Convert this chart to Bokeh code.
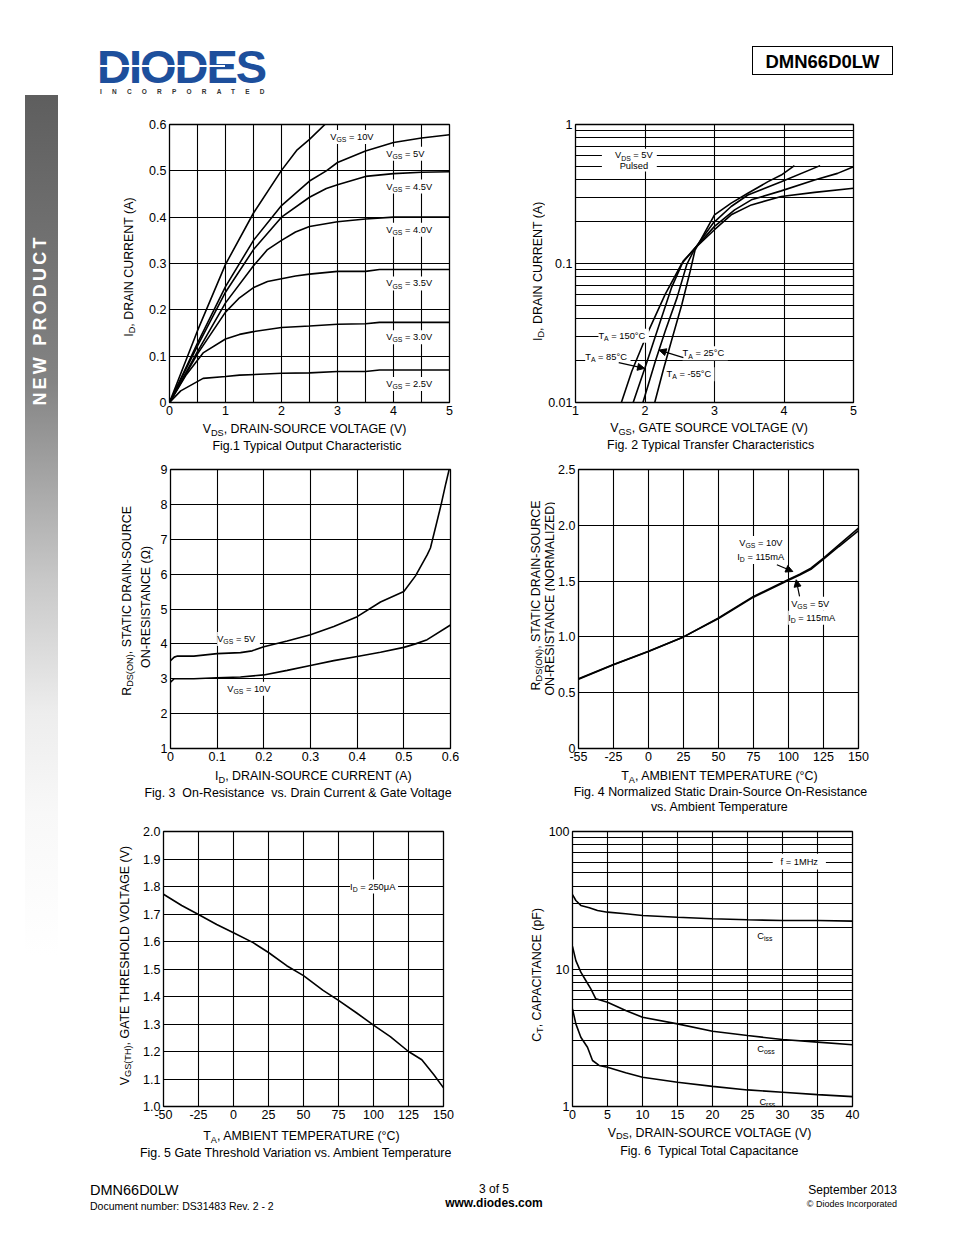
import math
from bokeh.plotting import figure
from bokeh.models import (Range1d, FixedTicker, Label, Arrow, NormalHead,
                          BoxAnnotation, Div, BasicTickFormatter)
from bokeh.layouts import row, column
from bokeh.embed import file_html
from bokeh.resources import INLINE

FONT = "Liberation Sans"
NB = "\u00a0"

# ---------------- data ----------------
# Fig.1 Typical Output Characteristic (VDS [V], ID [A])
f1_vgs10_v = [0, 0.5, 1.0, 1.5, 2.0, 2.27, 2.5, 2.8]
f1_vgs10_i = [0, 0.155, 0.298, 0.409, 0.501, 0.544, 0.568, 0.603]
f1_vgs5_v = [0, 0.5, 1.0, 1.5, 2.0, 2.5, 2.8, 3.0, 3.5, 4.0, 4.5, 5.0]
f1_vgs5_i = [0, 0.128, 0.25, 0.35, 0.425, 0.478, 0.50, 0.518, 0.543, 0.561, 0.571, 0.578]
f1_vgs45_v = [0, 0.5, 1.0, 1.5, 2.0, 2.5, 2.8, 3.0, 3.5, 4.0, 4.5, 5.0]
f1_vgs45_i = [0, 0.122, 0.238, 0.33, 0.40, 0.443, 0.462, 0.47, 0.488, 0.494, 0.497, 0.498]
f1_vgs40_v = [0, 0.5, 1.0, 1.5, 1.75, 2.0, 2.25, 2.5, 3.0, 3.5, 4.0, 5.0]
f1_vgs40_i = [0, 0.11, 0.215, 0.295, 0.33, 0.35, 0.368, 0.38, 0.39, 0.396, 0.40, 0.40]
f1_vgs35_v = [0, 0.5, 1.0, 1.25, 1.5, 1.75, 2.0, 2.25, 2.5, 3.0, 3.5, 3.75, 5.0]
f1_vgs35_i = [0, 0.105, 0.195, 0.226, 0.248, 0.261, 0.267, 0.273, 0.277, 0.283, 0.283, 0.287, 0.287]
f1_vgs30_v = [0, 0.3, 0.6, 1.0, 1.25, 1.5, 2.0, 2.5, 3.0, 3.5, 3.75, 5.0]
f1_vgs30_i = [0, 0.06, 0.107, 0.137, 0.147, 0.153, 0.162, 0.165, 0.169, 0.170, 0.173, 0.173]
f1_vgs25_v = [0, 0.2, 0.6, 1.0, 1.25, 2.0, 2.5, 3.0, 3.5, 3.75, 5.0]
f1_vgs25_i = [0, 0.025, 0.052, 0.056, 0.059, 0.063, 0.064, 0.067, 0.067, 0.070, 0.070]
f1_x_ticks = [0, 1, 2, 3, 4, 5]
f1_x_minor = [0.5, 1.5, 2.5, 3.5, 4.5]
f1_y_ticks = [0, 0.1, 0.2, 0.3, 0.4, 0.5, 0.6]
f1_y_labels = ["0", "0.1", "0.2", "0.3", "0.4", "0.5", "0.6"]

# Fig.2 Typical Transfer Characteristics (VGS [V], ID [A])
f2_t150_v = [1.66, 1.81, 2.03, 2.29, 2.53, 2.72, 3.0, 3.24, 3.53, 3.96, 4.44, 5.0]
f2_t150_i = [0.01, 0.0168, 0.031, 0.06, 0.10, 0.129, 0.175, 0.224, 0.264, 0.303, 0.325, 0.348]
f2_t85_v = [1.83, 2.0, 2.19, 2.38, 2.55, 2.72, 3.0, 3.29, 3.53, 3.96, 4.44, 4.77, 5.0]
f2_t85_i = [0.01, 0.0178, 0.0345, 0.0667, 0.104, 0.129, 0.185, 0.243, 0.287, 0.333, 0.399, 0.445, 0.497]
f2_t25_v = [1.97, 2.15, 2.29, 2.46, 2.6, 2.72, 2.98, 3.24, 3.48, 3.96, 4.52]
f2_t25_i = [0.01, 0.0199, 0.0326, 0.0566, 0.098, 0.129, 0.195, 0.257, 0.311, 0.388, 0.506]
f2_tm55_v = [2.14, 2.26, 2.38, 2.53, 2.65, 2.72, 3.0, 3.24, 3.48, 3.77, 3.96, 4.15]
f2_tm55_i = [0.01, 0.0169, 0.0277, 0.0507, 0.0879, 0.125, 0.224, 0.272, 0.32, 0.388, 0.433, 0.506]
f2_x_ticks = [1, 2, 3, 4, 5]
f2_y_ticks = [0.01, 0.1, 1]
f2_y_labels = ["0.01", "0.1", "1"]
f2_y_minor = [0.02, 0.03, 0.04, 0.05, 0.06, 0.07, 0.08, 0.09,
              0.2, 0.3, 0.4, 0.5, 0.6, 0.7, 0.8, 0.9]

# Fig.3 On-Resistance vs Drain Current (ID [A], RDS [ohm])
f3_vgs5_i = [0, 0.008, 0.015, 0.05, 0.1, 0.15, 0.175, 0.2, 0.25, 0.3, 0.35, 0.4,
             0.45, 0.5, 0.525, 0.55, 0.557, 0.57, 0.58, 0.59, 0.598]
f3_vgs5_r = [3.52, 3.62, 3.65, 3.65, 3.72, 3.75, 3.80, 3.92, 4.08, 4.26, 4.5, 4.78,
             5.2, 5.5, 5.95, 6.55, 6.75, 7.45, 8.0, 8.6, 9.05]
f3_vgs10_i = [0, 0.008, 0.05, 0.1, 0.15, 0.2, 0.25, 0.3, 0.35, 0.4, 0.45, 0.5, 0.525, 0.55, 0.6]
f3_vgs10_r = [2.9, 3.0, 3.0, 3.03, 3.05, 3.11, 3.24, 3.38, 3.52, 3.64, 3.76, 3.9, 4.0, 4.12, 4.54]
f3_x_ticks = [0, 0.1, 0.2, 0.3, 0.4, 0.5, 0.6]
f3_x_labels = ["0", "0.1", "0.2", "0.3", "0.4", "0.5", "0.6"]
f3_y_ticks = [1, 2, 3, 4, 5, 6, 7, 8, 9]

# Fig.4 Normalized RDS(ON) vs Ambient Temperature (axis position, normalized R)
f4_t = [-50, -25, 0, 25, 50, 75, 100, 108, 116, 125, 136, 150]
f4_vgs10_r = [0.625, 0.753, 0.872, 1.0, 1.17, 1.363, 1.515, 1.562, 1.616, 1.705, 1.824, 1.975]
f4_vgs5_r = [0.62, 0.75, 0.87, 1.0, 1.165, 1.356, 1.508, 1.555, 1.606, 1.696, 1.81, 1.952]
f4_x_ticks = [-50, -25, 0, 25, 50, 75, 100, 125, 150]
f4_x_labels = ["-55", "-25", "0", "25", "50", "75", "100", "125", "150"]
f4_y_ticks = [0, 0.5, 1.0, 1.5, 2.0, 2.5]
f4_y_labels = ["0", "0.5", "1.0", "1.5", "2.0", "2.5"]

# Fig.5 Gate Threshold Variation vs Ambient Temperature (T [C], VGS(TH) [V])
f5_t = [-50, -37, -25, -12, 0, 14, 25, 38, 50, 64, 75, 88, 100, 112, 125, 134.5, 143, 150]
f5_v = [1.772, 1.731, 1.698, 1.662, 1.632, 1.596, 1.56, 1.512, 1.476, 1.422, 1.386,
        1.34, 1.296, 1.254, 1.2, 1.17, 1.116, 1.068]
f5_x_ticks = [-50, -25, 0, 25, 50, 75, 100, 125, 150]
f5_x_labels = ["-50", "-25", "0", "25", "50", "75", "100", "125", "150"]
f5_y_ticks = [1.0, 1.1, 1.2, 1.3, 1.4, 1.5, 1.6, 1.7, 1.8, 1.9, 2.0]
f5_y_labels = ["1.0", "1.1", "1.2", "1.3", "1.4", "1.5", "1.6", "1.7", "1.8", "1.9", "2.0"]

# Fig.6 Typical Total Capacitance (VDS [V], C [pF])
f6_ciss_v = [0, 0.48, 1.19, 2.4, 3.57, 5, 7.6, 10, 15, 20, 25, 30, 35, 40]
f6_ciss_c = [34.8, 31.5, 29.0, 27.9, 26.6, 25.9, 25.2, 24.5, 23.8, 23.2, 22.8, 22.5, 22.5, 22.3]
f6_coss_v = [0, 0.48, 1.19, 1.9, 2.62, 3.33, 5, 7.6, 10, 15, 20, 25, 30, 35, 40]
f6_coss_c = [14.6, 11.5, 9.48, 8.25, 7.17, 6.07, 5.74, 4.99, 4.46, 3.99, 3.53, 3.28, 3.07, 2.94, 2.81]
f6_crss_v = [0, 0.48, 1.19, 2.14, 2.86, 3.8, 5, 7.6, 10, 15, 20, 25, 30, 35, 40]
f6_crss_c = [5.13, 3.99, 3.19, 2.70, 2.16, 1.99, 1.93, 1.76, 1.63, 1.50, 1.40, 1.32, 1.27, 1.22, 1.18]
f6_x_ticks = [0, 5, 10, 15, 20, 25, 30, 35, 40]
f6_y_ticks = [1, 10, 100]
f6_y_labels = ["1", "10", "100"]
f6_y_minor = [2, 3, 4, 5, 6, 7, 8, 9, 20, 30, 40, 50, 60, 70, 80, 90]

# ---------------- helpers ----------------
W = {' ': 278, NB: 278, '!': 278, '(': 333, ')': 333, ',': 278, '-': 333, '.': 278, '/': 278,
     ':': 278, '=': 584, '&': 667, '°': 400, 'Ω': 768, 'μ': 577, '©': 737,
     'A': 667, 'B': 667, 'C': 722, 'D': 722, 'E': 667, 'F': 611, 'G': 778, 'H': 722,
     'I': 278, 'J': 500, 'K': 667, 'L': 556, 'M': 833, 'N': 722, 'O': 778, 'P': 667,
     'Q': 778, 'R': 722, 'S': 667, 'T': 611, 'U': 722, 'V': 667, 'W': 944, 'X': 667,
     'Y': 667, 'Z': 611,
     'a': 556, 'b': 556, 'c': 500, 'd': 556, 'e': 556, 'f': 278, 'g': 556, 'h': 556,
     'i': 222, 'j': 222, 'k': 500, 'l': 222, 'm': 833, 'n': 556, 'o': 556, 'p': 556,
     'q': 556, 'r': 333, 's': 500, 't': 278, 'u': 556, 'v': 500, 'w': 722, 'x': 500,
     'y': 500, 'z': 500}
for d in "0123456789":
    W[d] = 556


def tw(s, size):
    return sum(W.get(c, 556) for c in s) * size / 1000.0


def keep_spaces(t):
    # SVG collapses leading and doubled spaces: protect them with no-break spaces
    t = t.replace("  ", " " + NB)
    if t.startswith(" "):
        t = NB + t[1:]
    return t


def rich(p, x, y, parts, size, align="left", angle=0.0, dx=0.0, dy=0.0, bg=False, pad=2):
    """Text with subscripts, composed of several Labels side by side."""
    sub = 0.74
    parts = [(keep_spaces(t), s) for t, s in parts]
    sizes = [size * sub if s else size for t, s in parts]
    widths = [tw(t, fs) for (t, s), fs in zip(parts, sizes)]
    total = sum(widths)
    start = {"left": 0.0, "center": -total / 2.0, "right": -total}[align]
    if bg and angle == 0:
        n = max(1, int(round(total / (0.278 * size))))
        p.add_layout(Label(x=x, y=y, x_offset=dx + start, y_offset=dy, text=NB * n,
                           text_font=FONT, text_font_size=f"{size:.2f}px",
                           text_align="left", text_baseline="middle",
                           background_fill_color="white", padding=pad))
    pos = start
    for (t, s), fs, w in zip(parts, sizes, widths):
        drop = 0.3 * size if s else 0.0
        if angle == 0:
            xo, yo = dx + pos, dy - drop
        else:
            xo, yo = dx + drop, dy + pos
        p.add_layout(Label(x=x, y=y, x_offset=xo, y_offset=yo, text=t, text_font=FONT,
                           text_font_size=f"{fs:.2f}px", text_color="black",
                           text_align="left", text_baseline="middle", angle=angle))
        pos += w


def make_fig(xr, yr, w, h, l, r, t, b, ylog=False):
    p = figure(width=w, height=h, x_range=Range1d(*xr), y_range=Range1d(*yr),
               y_axis_type="log" if ylog else "linear",
               output_backend="svg", toolbar_location=None, tools="",
               min_border_left=l, min_border_right=r, min_border_top=t, min_border_bottom=b)
    p.outline_line_color = "black"
    p.outline_line_width = 1.3
    p.outline_line_alpha = 1.0
    p.background_fill_color = "white"
    p.border_fill_color = "white"
    for ax in (p.xaxis[0], p.yaxis[0]):
        ax.axis_line_color = None
        ax.major_tick_line_color = None
        ax.minor_tick_line_color = None
        ax.major_tick_in = 0
        ax.major_tick_out = 0
        ax.minor_tick_in = 0
        ax.minor_tick_out = 0
        ax.major_label_text_font = FONT
        ax.major_label_text_font_size = "12.5px"
        ax.major_label_text_color = "black"
        ax.major_label_standoff = 3
        ax.axis_label = None
    for g in (p.xgrid[0], p.ygrid[0]):
        g.grid_line_color = "black"
        g.grid_line_width = 1.1
        g.grid_line_alpha = 1.0
    return p


def text_fig(w, h):
    """A bare canvas whose data units are pixels from its top-left corner."""
    p = figure(width=w, height=h, x_range=Range1d(0, w), y_range=Range1d(h, 0),
               output_backend="svg", toolbar_location=None, tools="",
               x_axis_location=None, y_axis_location=None,
               min_border_left=0, min_border_right=0, min_border_top=0, min_border_bottom=0)
    p.outline_line_color = None
    p.xgrid.visible = False
    p.ygrid.visible = False
    p.background_fill_color = "white"
    p.border_fill_color = "white"
    return p


def set_ticks(ax, ticks, labels=None, minor=None):
    ax.ticker = FixedTicker(ticks=ticks, minor_ticks=minor or [])
    ax.formatter = BasicTickFormatter()
    if labels is not None:
        ax.major_label_overrides = {t: s for t, s in zip(ticks, labels)}


def curve(p, x, y):
    p.line(x, y, line_color="black", line_width=1.6)


def arrow(p, x0, y0, x1, y1):
    p.add_layout(Arrow(end=NormalHead(size=7, fill_color="black", line_color="black"),
                       x_start=x0, y_start=y0, x_end=x1, y_end=y1,
                       line_color="black", line_width=1.2))


AX = 12.4   # axis label / caption font size
INP = 9.3   # in-plot label font size
ROT = math.pi / 2

# ---------------- Fig 1 ----------------
p1 = make_fig((0, 5), (0, 0.6), 360, 326, 29, 51, 27, 19)
set_ticks(p1.xaxis[0], f1_x_ticks, minor=f1_x_minor)
set_ticks(p1.yaxis[0], f1_y_ticks, f1_y_labels)
p1.xgrid[0].minor_grid_line_color = "black"
p1.xgrid[0].minor_grid_line_width = 1.1
for xs, ys in [(f1_vgs10_v, f1_vgs10_i), (f1_vgs5_v, f1_vgs5_i), (f1_vgs45_v, f1_vgs45_i),
               (f1_vgs40_v, f1_vgs40_i), (f1_vgs35_v, f1_vgs35_i), (f1_vgs30_v, f1_vgs30_i),
               (f1_vgs25_v, f1_vgs25_i)]:
    curve(p1, xs, ys)
rich(p1, 2.87, 0.573, [("V", 0), ("GS", 1), (" = 10V", 0)], INP, bg=True)
rich(p1, 3.87, 0.537, [("V", 0), ("GS", 1), (" = 5V", 0)], INP, bg=True)
rich(p1, 3.87, 0.466, [("V", 0), ("GS", 1), (" = 4.5V", 0)], INP, bg=True)
rich(p1, 3.87, 0.373, [("V", 0), ("GS", 1), (" = 4.0V", 0)], INP, bg=True)
rich(p1, 3.87, 0.257, [("V", 0), ("GS", 1), (" = 3.5V", 0)], INP, bg=True)
rich(p1, 3.87, 0.141, [("V", 0), ("GS", 1), (" = 3.0V", 0)], INP, bg=True)
rich(p1, 3.87, 0.040, [("V", 0), ("GS", 1), (" = 2.5V", 0)], INP, bg=True)

# ---------------- Fig 2 ----------------
p2 = make_fig((1, 5), (0.01, 1), 401, 326, 28, 93, 29, 18, ylog=True)
set_ticks(p2.xaxis[0], f2_x_ticks)
set_ticks(p2.yaxis[0], f2_y_ticks, f2_y_labels, minor=f2_y_minor)
p2.ygrid[0].minor_grid_line_color = "black"
p2.ygrid[0].minor_grid_line_width = 1.1
for xs, ys in [(f2_t150_v, f2_t150_i), (f2_t85_v, f2_t85_i), (f2_t25_v, f2_t25_i),
               (f2_tm55_v, f2_tm55_i)]:
    curve(p2, xs, ys)
p2.add_layout(BoxAnnotation(left=1.38, right=2.17, bottom=0.46, top=0.67,
                            fill_color="white", fill_alpha=1.0, line_color=None))
rich(p2, 1.84, 0.6, [("V", 0), ("DS", 1), (" = 5V", 0)], INP, align="center")
rich(p2, 1.84, 0.5, [("Pulsed", 0)], INP, align="center")
rich(p2, 1.33, 0.0302, [("T", 0), ("A", 1), (" = 150°C", 0)], INP, bg=True)
rich(p2, 1.14, 0.0212, [("T", 0), ("A", 1), (" = 85°C", 0)], INP, bg=True)
rich(p2, 2.54, 0.0226, [("T", 0), ("A", 1), (" = 25°C", 0)], INP, bg=True)
rich(p2, 2.31, 0.0160, [("T", 0), ("A", 1), (" = -55°C", 0)], INP, bg=True)
arrow(p2, 1.622, 0.01936, 1.994, 0.0176)
arrow(p2, 2.552, 0.02104, 2.203, 0.02383)

# ---------------- Fig 3 ----------------
p3 = make_fig((0, 0.6), (1, 9), 346, 308, 16, 50, 8, 20)
set_ticks(p3.xaxis[0], f3_x_ticks, f3_x_labels)
set_ticks(p3.yaxis[0], f3_y_ticks)
curve(p3, f3_vgs5_i, f3_vgs5_r)
curve(p3, f3_vgs10_i, f3_vgs10_r)
rich(p3, 0.1, 4.14, [("V", 0), ("GS", 1), (" = 5V", 0)], INP, bg=True)
rich(p3, 0.1215, 2.71, [("V", 0), ("GS", 1), (" = 10V", 0)], INP, bg=True)

# ---------------- Fig 4 ----------------
p4 = make_fig((-50, 150), (0, 2.5), 391, 308, 23, 88, 9, 19)
set_ticks(p4.xaxis[0], f4_x_ticks, f4_x_labels)
set_ticks(p4.yaxis[0], f4_y_ticks, f4_y_labels)
curve(p4, f4_t, f4_vgs10_r)
curve(p4, f4_t, f4_vgs5_r)
rich(p4, 64.8, 1.842, [("V", 0), ("GS", 1), (" = 10V", 0)], INP, bg=True)
rich(p4, 63.4, 1.717, [("I", 0), ("D", 1), (" = 115mA", 0)], INP, bg=True)
rich(p4, 101.9, 1.297, [("V", 0), ("GS", 1), (" = 5V", 0)], INP, bg=True)
rich(p4, 99.8, 1.172, [("I", 0), ("D", 1), (" = 115mA", 0)], INP, bg=True)
arrow(p4, 91.7, 1.646, 103.1, 1.586)
arrow(p4, 107.9, 1.3626, 105.5, 1.512)

# ---------------- Fig 5 ----------------
p5 = make_fig((-50, 150), (1.0, 2.0), 360, 305, 23, 57, 9, 18)
set_ticks(p5.xaxis[0], f5_x_ticks, f5_x_labels)
set_ticks(p5.yaxis[0], f5_y_ticks, f5_y_labels)
curve(p5, f5_t, f5_v)
rich(p5, 83.3, 1.8, [("I", 0), ("D", 1), (" = 250μA", 0)], INP, bg=True)

# ---------------- Fig 6 ----------------
p6 = make_fig((0, 40), (1, 100), 401, 305, 27, 94, 11, 19, ylog=True)
set_ticks(p6.xaxis[0], f6_x_ticks)
set_ticks(p6.yaxis[0], f6_y_ticks, f6_y_labels, minor=f6_y_minor)
p6.ygrid[0].minor_grid_line_color = "black"
p6.ygrid[0].minor_grid_line_width = 1.1
curve(p6, f6_ciss_v, f6_ciss_c)
curve(p6, f6_coss_v, f6_coss_c)
curve(p6, f6_crss_v, f6_crss_c)
p6.add_layout(BoxAnnotation(left=28.6, right=36.2, bottom=53, top=69,
                            fill_color="white", fill_alpha=1.0, line_color=None))
rich(p6, 32.4, 60, [("f = 1MHz", 0)], INP, align="center")
rich(p6, 26.4, 17.5, [("C", 0), ("iss", 1)], INP)
rich(p6, 26.4, 2.63, [("C", 0), ("oss", 1)], INP)
rich(p6, 26.7, 1.075, [("C", 0), ("rss", 1)], INP)

# ---------------- axis titles (text canvases beside / below the charts) ----------------
RDS = [("R", 0), ("DS(ON)", 1), (", STATIC DRAIN-SOURCE", 0)]
ID_Y = [("I", 0), ("D", 1), (", DRAIN CURRENT (A)", 0)]
TA_X = [("T", 0), ("A", 1), (", AMBIENT TEMPERATURE (°C)", 0)]
VDS_X = [("V", 0), ("DS", 1), (", DRAIN-SOURCE VOLTAGE (V)", 0)]

y1 = text_fig(82, 326)
rich(y1, 70, 167, ID_Y, AX, align="center", angle=ROT)
y2 = text_fig(45, 326)
rich(y2, 37, 172, ID_Y, AX, align="center", angle=ROT)
cap1 = text_fig(888, 39)
rich(cap1, 247, 7.5, VDS_X, AX, align="center")
rich(cap1, 249, 24.5, [("Fig.1 Typical Output Characteristic", 0)], AX, align="center")
rich(cap1, 652, 6.5, [("V", 0), ("GS", 1), (", GATE SOURCE VOLTAGE (V)", 0)], AX, align="center")
rich(cap1, 653, 23.5, [("Fig. 2 Typical Transfer Characteristics", 0)], AX, align="center")

y3 = text_fig(96, 308)
rich(y3, 68, 144, RDS, AX, align="center", angle=ROT)
rich(y3, 87, 151, [("ON-RESISTANCE (Ω)", 0)], AX, align="center", angle=ROT)
y4 = text_fig(55, 308)
rich(y4, 35, 138, RDS, AX, align="center", angle=ROT)
rich(y4, 49, 142, [("ON-RESISTANCE (NORMALIZED)", 0)], AX, align="center", angle=ROT)
cap2 = text_fig(888, 52)
rich(cap2, 255, 7.5, [("I", 0), ("D", 1), (", DRAIN-SOURCE CURRENT (A)", 0)], AX, align="center")
rich(cap2, 240, 24.5, [("Fig. 3  On-Resistance  vs. Drain Current & Gate Voltage", 0)], AX,
     align="center")
rich(cap2, 662, 7.5, TA_X, AX, align="center")
rich(cap2, 662, 23.5, [("Fig. 4 Normalized Static Drain-Source On-Resistance", 0)], AX,
     align="center")
rich(cap2, 662, 38.5, [("vs. Ambient Temperature", 0)], AX, align="center")

y5 = text_fig(82, 305)
rich(y5, 66, 147, [("V", 0), ("GS(TH)", 1), (", GATE THRESHOLD VOLTAGE (V)", 0)], AX,
     align="center", angle=ROT)
y6 = text_fig(45, 305)
rich(y6, 36, 158, [("C", 0), ("T", 1), (", CAPACITANCE (pF)", 0)], AX, align="center", angle=ROT)
cap3 = text_fig(888, 45)
rich(cap3, 244, 10.5, TA_X, AX, align="center")
rich(cap3, 239, 27, [("Fig. 5 Gate Threshold Variation vs. Ambient Temperature", 0)], AX,
     align="center")
rich(cap3, 652, 7, VDS_X, AX, align="center")
rich(cap3, 652, 25, [("Fig. 6  Typical Total Capacitance", 0)], AX, align="center")

# ---------------- page decoration ----------------
FF = "font-family:'Liberation Sans',Arial,sans-serif;"
header = Div(width=938, height=87, margin=0, text=f"""
<div style="position:relative;width:938px;height:87px;{FF}">
 <div style="position:absolute;left:89px;top:41px;font-size:47px;line-height:36px;font-weight:bold;color:#1d4f9c;letter-spacing:-2px;white-space:nowrap;">DIODES</div>
 <div style="position:absolute;left:92px;top:57px;width:125px;height:2px;background:#ffffff;"></div>
 <div style="position:absolute;left:92px;top:80px;font-size:6.5px;line-height:7px;font-weight:bold;color:#333;letter-spacing:10.2px;white-space:nowrap;">INCORPORATED</div>
 <div style="position:absolute;left:744px;top:38px;width:141px;height:29px;border:1.5px solid #000;text-align:center;line-height:29px;font-size:18.5px;font-weight:bold;color:#000;">DMN66D0LW</div>
</div>""")

sidebar = Div(width=50, height=1075, margin=0, text=f"""
<div style="position:relative;width:50px;height:1075px;{FF}">
 <div style="position:absolute;left:17px;top:0px;width:33px;height:1075px;background:linear-gradient(to bottom,#5e5e5e 0px,#838383 285px,#c8c8c8 485px,#ededed 618px,#f8f8f8 718px,#ffffff 860px);"></div>
 <div style="position:absolute;left:32px;top:225px;transform:translate(-50%,-50%) rotate(-90deg);color:#ffffff;font-weight:bold;font-size:18px;line-height:18px;letter-spacing:3.2px;white-space:nowrap;">NEW PRODUCT</div>
</div>""")

footer = Div(width=938, height=57, margin=0, text=f"""
<div style="position:relative;width:938px;height:57px;{FF}color:#000;">
 <div style="position:absolute;left:82px;top:13px;font-size:14.5px;line-height:14px;white-space:nowrap;">DMN66D0LW</div>
 <div style="position:absolute;left:82px;top:31px;font-size:10.5px;line-height:11px;white-space:nowrap;">Document number: DS31483 Rev. 2 - 2</div>
 <div style="position:absolute;left:386px;width:200px;top:13px;font-size:12px;line-height:12px;text-align:center;white-space:nowrap;">3 of 5</div>
 <div style="position:absolute;left:386px;width:200px;top:27px;font-size:12px;line-height:12px;font-weight:bold;text-align:center;white-space:nowrap;">www.diodes.com</div>
 <div style="position:absolute;right:49px;top:14px;font-size:12px;line-height:12px;text-align:right;white-space:nowrap;">September 2013</div>
 <div style="position:absolute;right:49px;top:30px;font-size:9px;line-height:9px;text-align:right;white-space:nowrap;">© Diodes Incorporated</div>
</div>""")

band1 = row(y1, p1, y2, p2, spacing=0)
band2 = row(y3, p3, y4, p4, spacing=0)
band3 = row(y5, p5, y6, p6, spacing=0)
charts = column(band1, cap1, band2, cap2, band3, cap3, spacing=0)
page = column(header, row(sidebar, charts, spacing=0), footer, spacing=0, margin=(8, 0, 0, 8))

open("out.html", "w").write(file_html(page, INLINE))
